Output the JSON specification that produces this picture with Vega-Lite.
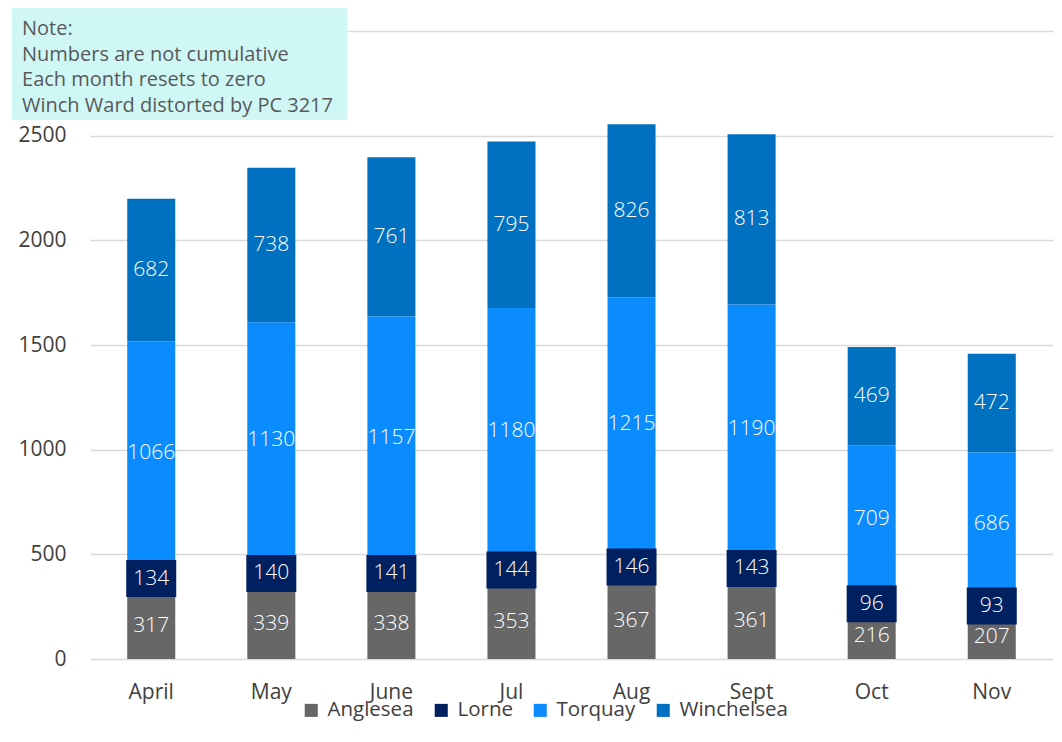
{
  "$schema": "https://vega.github.io/schema/vega-lite/v6.json",
  "width": 963,
  "height": 628,
  "autosize": "none",
  "padding": {"left": 90, "top": 31, "right": 9, "bottom": 83},
  "background": "white",
  "config": {
    "view": {"stroke": null},
    "font": "Open Sans"
  },
  "data": {
    "values": [
      {"month": "April", "series": "Anglesea", "value": 317},
      {"month": "April", "series": "Lorne", "value": 134},
      {"month": "April", "series": "Torquay", "value": 1066},
      {"month": "April", "series": "Winchelsea", "value": 682},
      {"month": "May", "series": "Anglesea", "value": 339},
      {"month": "May", "series": "Lorne", "value": 140},
      {"month": "May", "series": "Torquay", "value": 1130},
      {"month": "May", "series": "Winchelsea", "value": 738},
      {"month": "June", "series": "Anglesea", "value": 338},
      {"month": "June", "series": "Lorne", "value": 141},
      {"month": "June", "series": "Torquay", "value": 1157},
      {"month": "June", "series": "Winchelsea", "value": 761},
      {"month": "Jul", "series": "Anglesea", "value": 353},
      {"month": "Jul", "series": "Lorne", "value": 144},
      {"month": "Jul", "series": "Torquay", "value": 1180},
      {"month": "Jul", "series": "Winchelsea", "value": 795},
      {"month": "Aug", "series": "Anglesea", "value": 367},
      {"month": "Aug", "series": "Lorne", "value": 146},
      {"month": "Aug", "series": "Torquay", "value": 1215},
      {"month": "Aug", "series": "Winchelsea", "value": 826},
      {"month": "Sept", "series": "Anglesea", "value": 361},
      {"month": "Sept", "series": "Lorne", "value": 143},
      {"month": "Sept", "series": "Torquay", "value": 1190},
      {"month": "Sept", "series": "Winchelsea", "value": 813},
      {"month": "Oct", "series": "Anglesea", "value": 216},
      {"month": "Oct", "series": "Lorne", "value": 96},
      {"month": "Oct", "series": "Torquay", "value": 709},
      {"month": "Oct", "series": "Winchelsea", "value": 469},
      {"month": "Nov", "series": "Anglesea", "value": 207},
      {"month": "Nov", "series": "Lorne", "value": 93},
      {"month": "Nov", "series": "Torquay", "value": 686},
      {"month": "Nov", "series": "Winchelsea", "value": 472}
    ]
  },
  "layer": [
    {
      "layer": [
        {
          "mark": {"type": "bar"},
          "encoding": {
            "x": {
              "field": "month", "type": "nominal",
              "sort": ["April", "May", "June", "Jul", "Aug", "Sept", "Oct", "Nov"],
              "scale": {"paddingInner": 0.6, "paddingOuter": 0.31},
              "axis": {"title": null, "domain": false, "ticks": false, "labelAngle": 0,
                       "labelFont": "Open Sans", "labelFontSize": 21, "labelColor": "#404040",
                       "labelPadding": 22}
            },
            "y": {
              "field": "value", "type": "quantitative", "stack": "zero",
              "scale": {"domain": [0, 3000], "nice": false},
              "axis": {"title": null, "domain": false, "ticks": false,
                       "values": [0, 500, 1000, 1500, 2000, 2500, 3000],
                       "labelExpr": "datum.value == 3000 ? '' : datum.label",
                       "format": "d",
                       "labelFont": "Open Sans", "labelFontSize": 21, "labelColor": "#404040",
                       "labelPadding": 24,
                       "gridColor": "#D9D9D9", "gridWidth": 1.5}
            },
            "color": {
              "field": "series", "type": "nominal",
              "scale": {"domain": ["Anglesea", "Lorne", "Torquay", "Winchelsea"],
                        "range": ["#676767", "#002060", "#0A8CFF", "#0070C0"]},
              "legend": {"title": null, "orient": "none", "direction": "horizontal",
                         "legendX": 211, "legendY": 669,
                         "symbolType": "square", "symbolSize": 170, "symbolStrokeWidth": 0,
                         "labelFont": "Open Sans", "labelFontSize": 20.5, "labelColor": "#404040",
                         "labelOffset": 6, "columnPadding": 17}
            },
            "order": {"field": "series", "sort": "ascending"}
          }
        },
        {
          "transform": [
            {"stack": "value", "groupby": ["month"], "sort": [{"field": "series", "order": "ascending"}], "as": ["v0", "v1"]},
            {"calculate": "(datum.v0 + datum.v1) / 2", "as": "mid"},
            {"filter": "datum.series == 'Lorne'"}
          ],
          "mark": {"type": "point", "filled": true, "opacity": 1, "color": "#002060",
                   "shape": "M-1,-0.74L1,-0.74L1,0.74L-1,0.74Z", "size": 2500, "strokeWidth": 0},
          "encoding": {
            "x": {"field": "month", "type": "nominal", "sort": ["April", "May", "June", "Jul", "Aug", "Sept", "Oct", "Nov"]},
            "y": {"field": "mid", "type": "quantitative"}
          }
        },
        {
          "transform": [
            {"stack": "value", "groupby": ["month"], "sort": [{"field": "series", "order": "ascending"}], "as": ["v0", "v1"]},
            {"calculate": "(datum.v0 + datum.v1) / 2", "as": "mid"}
          ],
          "mark": {"type": "text", "color": "white", "font": "Open Sans", "fontWeight": 300, "fontSize": 21,
                   "align": "center", "baseline": "middle"},
          "encoding": {
            "x": {"field": "month", "type": "nominal", "sort": ["April", "May", "June", "Jul", "Aug", "Sept", "Oct", "Nov"]},
            "y": {"field": "mid", "type": "quantitative"},
            "text": {"field": "value", "type": "quantitative"}
          }
        }
      ]
    },
    {
      "data": {"values": [{"note": "Note"}]},
      "layer": [
        {
          "mark": {"type": "rect", "color": "#CFF7F6", "clip": false},
          "encoding": {
            "x": {"datum": -0.081, "type": "quantitative", "scale": {"domain": [0, 1], "nice": false, "zero": false}, "axis": null},
            "x2": {"datum": 0.2669},
            "y": {"datum": 3110, "type": "quantitative"},
            "y2": {"datum": 2575}
          }
        },
        {
          "mark": {"type": "text", "align": "left", "baseline": "top", "font": "Open Sans", "fontSize": 20,
                   "color": "#595959", "lineHeight": 25.5,
                   "text": ["Note:", "Numbers are not cumulative", "Each month resets to zero", "Winch Ward distorted by PC 3217"]},
          "encoding": {
            "x": {"datum": -0.0706, "type": "quantitative", "scale": {"domain": [0, 1], "nice": false, "zero": false}, "axis": null},
            "y": {"datum": 3055, "type": "quantitative"}
          }
        }
      ]
    }
  ],
  "resolve": {"scale": {"x": "independent"}}
}
